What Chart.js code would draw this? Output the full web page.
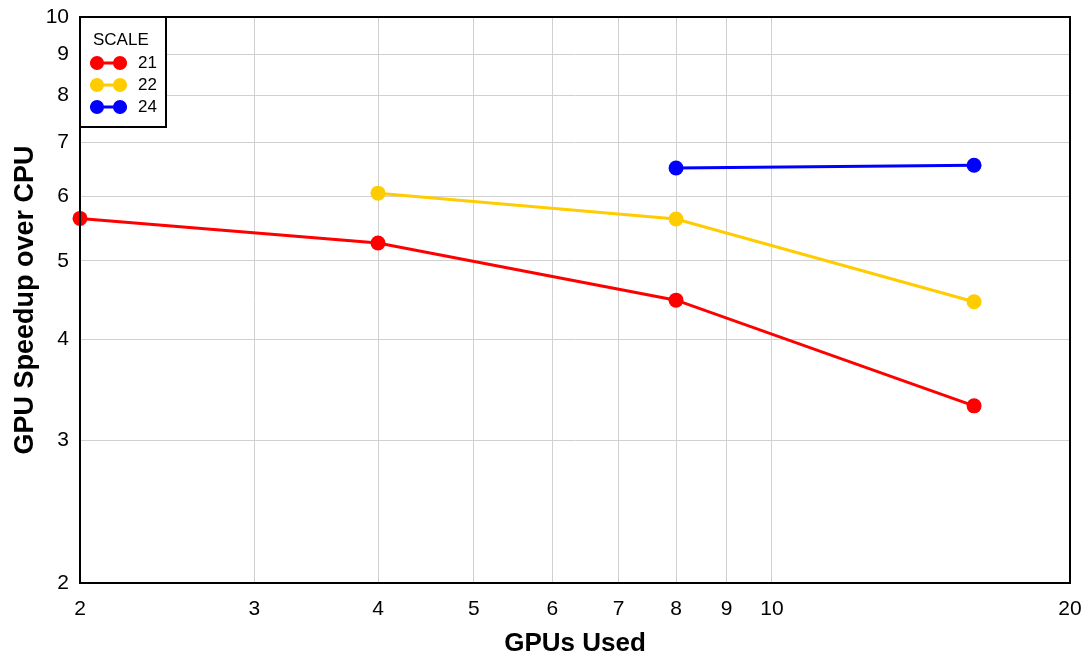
<!DOCTYPE html>
<html>
<head>
<meta charset="utf-8">
<script src="https://cdn.jsdelivr.net/npm/chart.js@4/dist/chart.umd.min.js"></script>
<style>
  html, body { margin: 0; padding: 0; background: #ffffff; }
  #wrap { width: 1089px; height: 660px; position: relative; }
</style>
</head>
<body>
<div id="wrap"><canvas id="chart" width="1089" height="660"></canvas></div>
<script>
// GPU counts on the x axis
const gpus = [2, 4, 8, 16];

// Speedup of GPU over CPU for each graph SCALE
const scale21 = [5.64, 5.26, 4.47, 3.31];
const scale22 = [null, 6.06, 5.63, 4.45];
const scale24 = [null, null, 6.51, 6.56];

const seriesLabels = ['21', '22', '24'];
const seriesColors = ['#ff0000', '#ffcc00', '#0000ff'];

const xTickValues = [2, 3, 4, 5, 6, 7, 8, 9, 10, 20];
const yTickValues = [2, 3, 4, 5, 6, 7, 8, 9, 10];

function toPoints(values) {
  return gpus.map((g, i) => ({ x: g, y: values[i] })).filter(p => p.y !== null);
}

const FONT = '"Liberation Sans", Arial, sans-serif';

// Black frame around the plotting area
const framePlugin = {
  id: 'frame',
  afterDatasetsDraw(chart) {
    const { ctx, chartArea: a } = chart;
    ctx.save();
    ctx.strokeStyle = '#000';
    ctx.lineWidth = 2;
    ctx.strokeRect(a.left, a.top, a.right - a.left, a.bottom - a.top);
    ctx.restore();
  }
};

// Boxed legend in the upper-left corner of the plot
const scaleLegend = {
  id: 'scaleLegend',
  afterDraw(chart) {
    const { ctx, chartArea: a } = chart;
    const x0 = a.left, y0 = a.top, w = 86, h = 110;
    ctx.save();
    ctx.fillStyle = '#fff';
    ctx.fillRect(x0, y0, w, h);
    ctx.strokeStyle = '#000';
    ctx.lineWidth = 2;
    ctx.strokeRect(x0, y0, w, h);
    ctx.fillStyle = '#000';
    ctx.font = '17px ' + FONT;
    ctx.textBaseline = 'middle';
    ctx.textAlign = 'left';
    ctx.fillText('SCALE', x0 + 13, y0 + 23);
    chart.data.datasets.forEach((ds, i) => {
      const cy = y0 + 46 + i * 22;
      ctx.strokeStyle = ds.borderColor;
      ctx.lineWidth = 3;
      ctx.beginPath();
      ctx.moveTo(x0 + 10, cy);
      ctx.lineTo(x0 + 47, cy);
      ctx.stroke();
      ctx.fillStyle = ds.borderColor;
      [x0 + 17, x0 + 40].forEach(cx => {
        ctx.beginPath();
        ctx.arc(cx, cy, 7, 0, Math.PI * 2);
        ctx.fill();
      });
      ctx.fillStyle = '#000';
      ctx.font = '17px ' + FONT;
      ctx.fillText(ds.label, x0 + 58, cy);
    });
    ctx.restore();
  }
};

const datasets = [scale21, scale22, scale24].map((vals, i) => ({
  label: seriesLabels[i],
  data: toPoints(vals),
  borderColor: seriesColors[i],
  backgroundColor: seriesColors[i],
  pointBackgroundColor: seriesColors[i],
  pointBorderColor: seriesColors[i],
  borderWidth: 3,
  pointRadius: 7.5,
  pointBorderWidth: 0,
  tension: 0,
  clip: false
}));

// Keep the plot area fixed: no extra room reserved for overhanging tick labels
function noOverhang(scale) {
  scale.paddingTop = 0;
  scale.paddingBottom = 0;
  scale.paddingLeft = 0;
  scale.paddingRight = 0;
}

new Chart(document.getElementById('chart'), {
  type: 'line',
  data: { datasets },
  options: {
    responsive: false,
    animation: false,
    layout: { padding: { top: 17, right: 19, left: 0, bottom: 0 } },
    plugins: {
      legend: { display: false },
      tooltip: { enabled: false }
    },
    scales: {
      x: {
        type: 'logarithmic',
        min: 2,
        max: 20,
        afterBuildTicks(scale) { scale.ticks = xTickValues.map(v => ({ value: v })); },
        afterFit(scale) { scale.height = 77; noOverhang(scale); },
        ticks: {
          autoSkip: false,
          maxRotation: 0,
          padding: 14,
          color: '#000',
          font: { family: FONT, size: 21 },
          callback: v => String(v)
        },
        grid: { color: '#d0d0d0', lineWidth: 1, drawTicks: false },
        border: { color: '#000', width: 2 },
        title: {
          display: true,
          text: 'GPUs Used',
          color: '#000',
          font: { family: FONT, size: 26, weight: 'bold' },
          padding: { top: 0, bottom: 1 }
        }
      },
      y: {
        type: 'logarithmic',
        min: 2,
        max: 10,
        afterBuildTicks(scale) { scale.ticks = yTickValues.map(v => ({ value: v })); },
        afterFit(scale) { scale.width = 80; noOverhang(scale); },
        ticks: {
          autoSkip: false,
          padding: 11,
          color: '#000',
          font: { family: FONT, size: 21 },
          callback: v => String(v)
        },
        grid: { color: '#d0d0d0', lineWidth: 1, drawTicks: false },
        border: { color: '#000', width: 2 },
        title: {
          display: true,
          text: 'GPU Speedup over CPU',
          color: '#000',
          font: { family: FONT, size: 27, weight: 'bold' },
          padding: { top: 9, bottom: 0 }
        }
      }
    }
  },
  plugins: [framePlugin, scaleLegend]
});
</script>
</body>
</html>
